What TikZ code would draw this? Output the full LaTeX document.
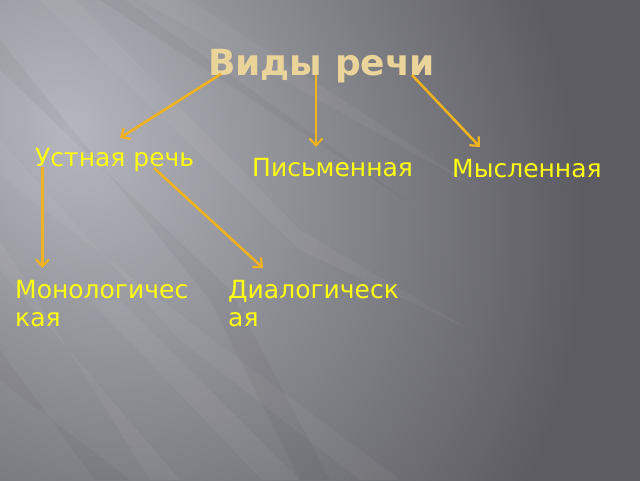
\documentclass[tikz,border=0pt]{standalone}
\usepackage{fontspec}
\setmainfont{DejaVu Sans}
\usetikzlibrary{arrows.meta}
\definecolor{bgdark}{HTML}{5C5C62}
\definecolor{bglight}{HTML}{B6B6BE}
\definecolor{titlecol}{HTML}{EAD49A}
\definecolor{labcol}{HTML}{FFFF10}
\definecolor{arrcol}{HTML}{F0B21E}
\tikzset{
  lab/.style={font=\fontsize{25}{28.5}\selectfont, text=labcol, inner sep=0pt, anchor=base west, align=left},
  ttl/.style={font=\bfseries\fontsize{36}{40}\selectfont, text=titlecol, inner sep=0pt, anchor=base west},
  arr/.style={draw=arrcol, line width=2.6pt, -{Straight Barb[length=7pt,width=13pt,line width=2.2pt]}},
  band/.style={fill=white, opacity=0.045},
  dband/.style={fill=black, opacity=0.035}
}
\begin{document}
\begin{tikzpicture}[x=1pt,y=-1pt]
\useasboundingbox (0,0) rectangle (640,480);
\fill[bgdark] (-5,-5) rectangle (645,485);
\begin{scope}
\clip (-5,-5) rectangle (645,485);
\begin{scope}[transform canvas={shift={(70,130)}, rotate=-60}]
\shade[inner color=bglight, outer color=bgdark] (0,0) ellipse [x radius=600, y radius=480];
\end{scope}
\end{scope}
\begin{scope}
\clip (0,0) rectangle (640,480);
\fill[band] (40,0) -- (75,0) -- (300,230) -- (470,330) -- (300,250) -- cycle;
\fill[band] (90,300) -- (120,300) -- (300,480) -- (262,480) -- cycle;
\fill[band] (0,140) -- (0,175) -- (200,330) -- (400,480) -- (360,480) -- (180,340) -- cycle;
\fill[band] (140,0) -- (190,0) -- (480,190) -- cycle;
\fill[dband] (0,350) -- (0,380) -- (130,480) -- (95,480) -- cycle;
\fill[dband] (0,40) -- (0,70) -- (230,290) -- (330,480) -- (300,480) -- (210,300) -- cycle;
\fill[dband] (100,0) -- (125,0) -- (420,210) -- cycle;
\fill[band] (0,240) -- (0,270) -- (180,480) -- (150,480) -- cycle;
\end{scope}
\node[ttl] (title) at (208,75) {Виды речи};
\node[lab] (ustn) at (35,166) {Устная речь};
\node[lab] (pism) at (252,176) {Письменная};
\node[lab] (mysl) at (452,177) {Мысленная};
\node[lab] (mono) at (15,326.5) {Монологичес\\кая};
\node[lab] (dial) at (228,326.5) {Диалогическ\\ая};
\coordinate (t1) at (221,74);
\coordinate (t2) at (316,75);
\coordinate (t3) at (412,75);
\coordinate (u1) at (42.5,167);
\coordinate (u2) at (154,168);
\coordinate (h1) at (120,138);
\coordinate (h2) at (316,147);
\coordinate (h3) at (480,147);
\coordinate (h4) at (42.5,268);
\coordinate (h5) at (263,268);
\draw[arr] (t1) -- (h1);
\draw[arr] (t2) -- (h2);
\draw[arr] (t3) -- (h3);
\draw[arr] (u1) -- (h4);
\draw[arr] (u2) -- (h5);
\end{tikzpicture}
\end{document}
